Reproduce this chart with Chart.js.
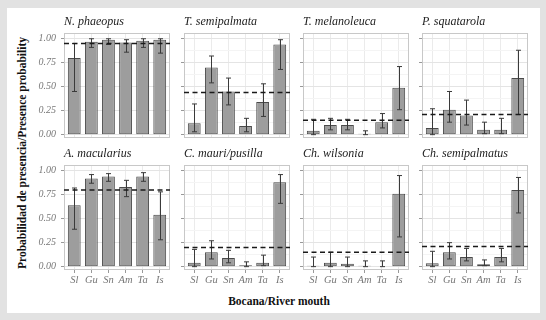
<!DOCTYPE html>
<html>
<head>
<meta charset="utf-8">
<script src="https://cdn.jsdelivr.net/npm/chart.js@4.4.1/dist/chart.umd.min.js"></script>
<style>
body { margin: 0; background: #e2e2e2; }
#wrap { position: relative; width: 546px; height: 320px; overflow: hidden; font-family: 'Liberation Serif', serif; }
#panel { position: absolute; left: 7px; top: 8px; width: 533px; height: 305px; background: #fff; }
canvas { position: absolute; }
.ax { position: absolute; font-weight: bold; font-size: 11.5px; color: #111; white-space: nowrap; transform: translate(-50%, -50%); }
</style>
</head>
<body>
<div id="wrap">
  <div id="panel"></div>
  <div class="ax" style="left:279px;top:301px;">Bocana/River mouth</div>
  <div class="ax" style="left:22px;top:153px;transform:translate(-50%,-50%) rotate(-90deg);">Probabilidad de presencia/Presence probability</div>
</div>
<script>
// Data
var mouths = ['Sl', 'Gu', 'Sn', 'Am', 'Ta', 'Is'];
var species = ['N. phaeopus', 'T. semipalmata', 'T. melanoleuca', 'P. squatarola',
               'A. macularius', 'C. mauri/pusilla', 'Ch. wilsonia', 'Ch. semipalmatus'];

var prob = [
    [0.80, 0.97, 0.99, 0.96, 0.98, 0.99],
    [0.12, 0.70, 0.45, 0.09, 0.34, 0.94],
    [0.04, 0.10, 0.10, 0.01, 0.13, 0.49],
    [0.07, 0.26, 0.20, 0.05, 0.05, 0.59],
    [0.64, 0.92, 0.94, 0.83, 0.94, 0.54],
    [0.04, 0.15, 0.09, 0.015, 0.04, 0.88],
    [0.01, 0.04, 0.03, 0.01, 0.005, 0.76],
    [0.035, 0.15, 0.10, 0.025, 0.10, 0.80]
];
var lower = [
    [0.45, 0.91, 0.94, 0.86, 0.91, 0.85],
    [0.03, 0.54, 0.31, 0.03, 0.19, 0.68],
    [0.00, 0.05, 0.05, 0.00, 0.07, 0.26],
    [0.00, 0.13, 0.10, 0.01, 0.01, 0.21],
    [0.39, 0.87, 0.89, 0.73, 0.89, 0.28],
    [0.00, 0.08, 0.04, 0.00, 0.01, 0.66],
    [0.00, 0.00, 0.00, 0.00, 0.00, 0.31],
    [0.00, 0.08, 0.06, 0.01, 0.05, 0.56]
];
var upper = [
    [0.95, 1.00, 1.00, 0.99, 1.00, 1.00],
    [0.32, 0.82, 0.59, 0.17, 0.53, 0.99],
    [0.16, 0.17, 0.16, 0.04, 0.22, 0.71],
    [0.27, 0.45, 0.36, 0.13, 0.17, 0.88],
    [0.82, 0.96, 0.97, 0.90, 0.98, 0.78],
    [0.18, 0.27, 0.17, 0.05, 0.12, 0.96],
    [0.10, 0.15, 0.10, 0.06, 0.06, 0.95],
    [0.16, 0.25, 0.19, 0.07, 0.19, 0.93]
];
// dashed line = overall probability per species
var overall = [0.95, 0.44, 0.15, 0.21, 0.80, 0.20, 0.15, 0.21];

// Layout of the facets
var plotLeft = [64, 184, 303, 422];
var plotTop = [33, 165];
var plotW = 106, plotH = 105, titleH = 19;
var serif = "'Liberation Serif', serif";

function isMajor(v) {
    return Math.abs(v * 4 - Math.round(v * 4)) < 1e-6;
}

// error bars, dashed mean line and panel border
var errorBars = {
    id: 'errorBars',
    afterDatasetsDraw: function(chart, args, opts) {
        var ctx = chart.ctx, x = chart.scales.x, y = chart.scales.y, a = chart.chartArea;
        ctx.save();
        ctx.strokeStyle = '#c8c8c8';
        ctx.lineWidth = 1;
        ctx.strokeRect(a.left + 0.5, a.top + 0.5, a.width - 1, a.height - 1);

        ctx.strokeStyle = '#3a3a3a';
        opts.lo.forEach(function(lo, i) {
            var px = Math.round(x.getPixelForValue(i)) + 0.5;
            var y1 = y.getPixelForValue(lo), y2 = y.getPixelForValue(opts.hi[i]);
            ctx.beginPath();
            ctx.moveTo(px, y1); ctx.lineTo(px, y2);
            ctx.moveTo(px - 2.5, y1); ctx.lineTo(px + 2.5, y1);
            ctx.moveTo(px - 2.5, y2); ctx.lineTo(px + 2.5, y2);
            ctx.stroke();
        });

        var ym = y.getPixelForValue(opts.mean);
        ctx.setLineDash([5, 3.5]);
        ctx.lineWidth = 1.6;
        ctx.strokeStyle = '#1a1a1a';
        ctx.beginPath();
        ctx.moveTo(a.left, ym);
        ctx.lineTo(a.right, ym);
        ctx.stroke();
        ctx.restore();
    }
};

var wrap = document.getElementById('wrap');

species.forEach(function(name, k) {
    var r = Math.floor(k / 4), c = k % 4;
    var yW = c === 0 ? 30 : 4;
    var xH = r === 1 ? 22 : 6;

    var cv = document.createElement('canvas');
    cv.width = yW + plotW + 2;
    cv.height = titleH + plotH + xH;
    cv.style.left = (plotLeft[c] - yW) + 'px';
    cv.style.top = (plotTop[r] - titleH) + 'px';
    wrap.appendChild(cv);

    new Chart(cv.getContext('2d'), {
        type: 'bar',
        data: {
            datasets: [{
                data: prob[k].map(function(v, i) { return { x: i, y: v }; }),
                backgroundColor: '#9d9d9d',
                borderColor: '#4a4a4a',
                borderWidth: 1,
                borderSkipped: false,
                barPercentage: 0.75,
                categoryPercentage: 1
            }]
        },
        options: {
            responsive: false,
            animation: false,
            layout: { padding: { right: 2 } },
            plugins: {
                legend: { display: false },
                tooltip: { enabled: false },
                title: {
                    display: true,
                    text: name,
                    align: 'start',
                    fullSize: false,
                    color: '#222',
                    font: { family: serif, size: 12, style: 'italic', weight: 'normal', lineHeight: 1.25 },
                    padding: { top: 0, bottom: 4 }
                },
                errorBars: { lo: lower[k], hi: upper[k], mean: overall[k] }
            },
            scales: {
                x: {
                    type: 'linear',
                    min: -0.6,
                    max: 5.6,
                    offset: false,
                    afterFit: function(s) {
                        s.height = xH;
                        s.paddingLeft = 0; s.paddingRight = 0;
                    },
                    border: { display: false },
                    grid: { color: '#ebebeb', offset: false, drawTicks: r === 1, tickLength: 3, tickColor: '#999' },
                    ticks: {
                        display: r === 1,
                        stepSize: 1,
                        includeBounds: false,
                        autoSkip: false,
                        maxRotation: 0,
                        padding: 1,
                        color: '#777',
                        font: { family: serif, size: 10.5, style: 'italic' },
                        callback: function(v) { return mouths[v]; }
                    }
                },
                y: {
                    min: -0.035,
                    max: 1.06,
                    afterFit: function(s) {
                        s.width = yW;
                        s.paddingTop = 0; s.paddingBottom = 0;
                    },
                    border: { display: false },
                    grid: {
                        color: function(ctx) { return ctx.tick && isMajor(ctx.tick.value) ? '#e4e4e4' : '#f4f4f4'; },
                        tickLength: 3,
                        tickColor: function(ctx) { return ctx.tick && isMajor(ctx.tick.value) ? '#999' : 'rgba(0,0,0,0)'; }
                    },
                    ticks: {
                        display: c === 0,
                        stepSize: 0.125,
                        includeBounds: false,
                        padding: 5,
                        color: '#777',
                        font: { family: serif, size: 10, style: 'italic' },
                        callback: function(v) { return isMajor(v) ? v.toFixed(2) : ''; }
                    }
                }
            }
        },
        plugins: [errorBars]
    });
});
</script>
</body>
</html>
